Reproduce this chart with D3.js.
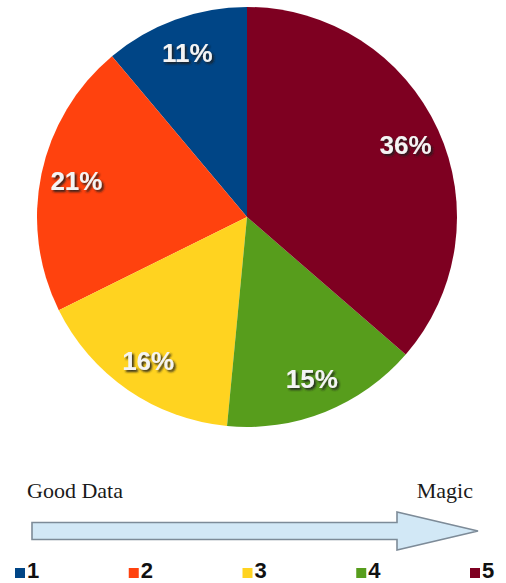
<!DOCTYPE html>
<html>
<head>
<meta charset="utf-8">
<script src="https://cdn.jsdelivr.net/npm/d3@7"></script>
<style>
  html, body { margin: 0; padding: 0; background: #ffffff; }
  svg { display: block; }
</style>
</head>
<body>
<svg id="chart" width="506" height="583"></svg>
<script>
// Share of each stage, listed from 1 to 5
const categories = ["1", "2", "3", "4", "5"];
const shares = [11, 21, 16, 15, 36];
const sliceColors = ["#004586", "#ff420e", "#ffd320", "#579d1c", "#7e0021"];
const arrowStartLabel = "Good Data";
const arrowEndLabel = "Magic";

const svg = d3.select("#chart");
const cx = 247, cy = 217, radius = 210;

// Dark drop shadow used under the percentage labels
const defs = svg.append("defs");
defs.append("filter")
  .attr("id", "labelShadow")
  .attr("x", "-20%").attr("y", "-30%")
  .attr("width", "150%").attr("height", "170%")
  .append("feDropShadow")
  .attr("dx", 2).attr("dy", 2)
  .attr("stdDeviation", 0.8)
  .attr("flood-color", "#1e1e1e")
  .attr("flood-opacity", 0.9);

const color = d3.scaleOrdinal().domain(categories).range(sliceColors);

// Slices run counter-clockwise from 12 o'clock so stage 5 sits on the right
const pie = d3.pie()
  .sort(null)
  .value(d => d.value)
  .startAngle(2 * Math.PI)
  .endAngle(0);

const rows = categories.map((c, i) => ({ key: c, value: shares[i] }));
const arcs = pie(rows);

const arc = d3.arc().innerRadius(0).outerRadius(radius);
const labelArc = d3.arc().innerRadius(radius * 0.83).outerRadius(radius * 0.83);

const g = svg.append("g").attr("transform", `translate(${cx},${cy})`);

g.selectAll("path.slice")
  .data(arcs)
  .join("path")
  .attr("class", "slice")
  .attr("d", arc)
  .attr("fill", d => color(d.data.key));

// Percentage labels: white bold text with a drop shadow
g.selectAll("text.label")
  .data(arcs)
  .join("text")
  .attr("class", "label")
  .attr("transform", d => `translate(${labelArc.centroid(d)})`)
  .attr("text-anchor", "middle")
  .attr("dominant-baseline", "central")
  .attr("font-family", "'Liberation Sans', Arial, sans-serif")
  .attr("font-weight", "bold")
  .attr("font-size", 26)
  .attr("fill", "#f4f4f4")
  .attr("filter", "url(#labelShadow)")
  .text(d => d.data.value + "%");

// Progress arrow from good data towards magic
const arrow = { x0: 32, x1: 397, tip: 478, yMid: 531, body: 8.5, head: 19 };
const arrowPath = d3.path();
arrowPath.moveTo(arrow.x0, arrow.yMid - arrow.body);
arrowPath.lineTo(arrow.x1, arrow.yMid - arrow.body);
arrowPath.lineTo(arrow.x1, arrow.yMid - arrow.head);
arrowPath.lineTo(arrow.tip, arrow.yMid);
arrowPath.lineTo(arrow.x1, arrow.yMid + arrow.head);
arrowPath.lineTo(arrow.x1, arrow.yMid + arrow.body);
arrowPath.lineTo(arrow.x0, arrow.yMid + arrow.body);
arrowPath.closePath();

svg.append("path")
  .attr("d", arrowPath.toString())
  .attr("fill", "#d2e8f6")
  .attr("stroke", "#7d8b98")
  .attr("stroke-width", 1.6);

svg.append("text")
  .attr("x", 27).attr("y", 498)
  .attr("font-family", "'Liberation Serif', 'Times New Roman', serif")
  .attr("font-size", 22)
  .attr("fill", "#1a1a1a")
  .text(arrowStartLabel);

svg.append("text")
  .attr("x", 473).attr("y", 498)
  .attr("text-anchor", "end")
  .attr("font-family", "'Liberation Serif', 'Times New Roman', serif")
  .attr("font-size", 22)
  .attr("fill", "#1a1a1a")
  .text(arrowEndLabel);

// Legend along the bottom edge
const legendX = d3.scalePoint().domain(categories).range([15, 470]);
const legend = svg.selectAll("g.legend")
  .data(categories)
  .join("g")
  .attr("class", "legend")
  .attr("transform", d => `translate(${legendX(d)},568)`);

legend.append("rect")
  .attr("width", 10).attr("height", 10)
  .attr("fill", d => color(d));

legend.append("text")
  .attr("x", 12).attr("y", 10)
  .attr("font-family", "'Liberation Sans', Arial, sans-serif")
  .attr("font-weight", "bold")
  .attr("font-size", 22)
  .attr("fill", "#111")
  .text(d => d);
</script>
</body>
</html>
